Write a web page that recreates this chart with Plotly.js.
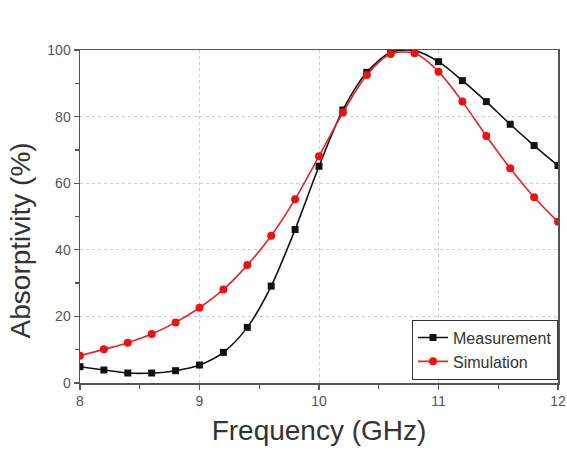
<!DOCTYPE html>
<html>
<head>
<meta charset="utf-8">
<script src="https://cdn.plot.ly/plotly-3.0.1.min.js"></script>
<style>html,body{margin:0;padding:0;background:#fff;}#chart{width:567px;height:450px;}</style>
</head>
<body>
<div id="chart"></div>
<script>
var frequency = [8.0, 8.2, 8.4, 8.6, 8.8, 9.0, 9.2, 9.4, 9.6, 9.8, 10.0, 10.2, 10.4, 10.6, 10.8, 11.0, 11.2, 11.4, 11.6, 11.8, 12.0];
var measurement = [4.9, 3.9, 3.0, 3.0, 3.7, 5.4, 9.2, 16.7, 29.1, 46.1, 65.1, 82.0, 93.3, 99.3, 99.8, 96.5, 90.8, 84.5, 77.7, 71.3, 65.3];
var simulation = [8.2, 10.1, 12.1, 14.7, 18.2, 22.6, 28.1, 35.4, 44.2, 55.2, 68.1, 81.2, 92.5, 98.8, 99.0, 93.5, 84.5, 74.2, 64.5, 55.8, 48.4];
var xTicks = [8, 9, 10, 11, 12];
var yTicks = [0, 20, 40, 60, 80, 100];
var xTitle = 'Frequency (GHz)';
var yTitle = 'Absorptivity (%)';

var FONT = 'Liberation Sans, Arial, sans-serif';

var traces = [
  {x: frequency, y: measurement, name: 'Measurement', type: 'scatter', mode: 'lines+markers',
   line: {color: '#111', width: 1.6, shape: 'spline', smoothing: 0.8},
   marker: {symbol: 'square', size: 7, color: '#111'}},
  {x: frequency, y: simulation, name: 'Simulation', type: 'scatter', mode: 'lines+markers',
   line: {color: '#e8222a', width: 1.6, shape: 'spline', smoothing: 0.8},
   marker: {symbol: 'circle', size: 8, color: '#ee1111'}}
];

var axisCommon = {
  showline: true, linecolor: '#555', linewidth: 1.5, mirror: true,
  ticks: 'outside', ticklen: 5, tickwidth: 1.3, tickcolor: '#555',
  showgrid: true, gridcolor: '#cccccc', griddash: 'dot', gridwidth: 1,
  zeroline: false,
  tickfont: {family: FONT, size: 14, color: '#555'}
};

var layout = {
  width: 567, height: 450,
  margin: {l: 80, r: 9, t: 50, b: 67},
  paper_bgcolor: '#fff', plot_bgcolor: '#fff',
  showlegend: true,
  xaxis: Object.assign({}, axisCommon, {
    range: [8, 12], tickvals: xTicks, ticktext: xTicks.map(String),
    minor: {dtick: 0.5, tick0: 8, ticks: 'outside', ticklen: 4, tickwidth: 1.3, tickcolor: '#555', showgrid: false},
    title: {text: xTitle, font: {family: FONT, size: 28, color: '#333'}, standoff: 12}
  }),
  yaxis: Object.assign({}, axisCommon, {
    range: [0, 100], tickvals: yTicks, ticktext: yTicks.map(String),
    minor: {dtick: 10, tick0: 0, ticks: 'outside', ticklen: 4, tickwidth: 1.3, tickcolor: '#555', showgrid: false}
  }),
  annotations: [{
    text: yTitle, xref: 'paper', yref: 'paper', x: -0.125, y: 0.429,
    xanchor: 'center', yanchor: 'middle', textangle: -90, showarrow: false,
    font: {family: FONT, size: 28, color: '#333'}
  }],
  legend: {
    x: 1, xanchor: 'right', y: 0.01, yanchor: 'bottom',
    bgcolor: '#fff', bordercolor: '#333', borderwidth: 1,
    font: {family: FONT, size: 16, color: '#333'},
    tracegroupgap: 0
  }
};

Plotly.newPlot('chart', traces, layout, {displayModeBar: false, staticPlot: true});
</script>
</body>
</html>
